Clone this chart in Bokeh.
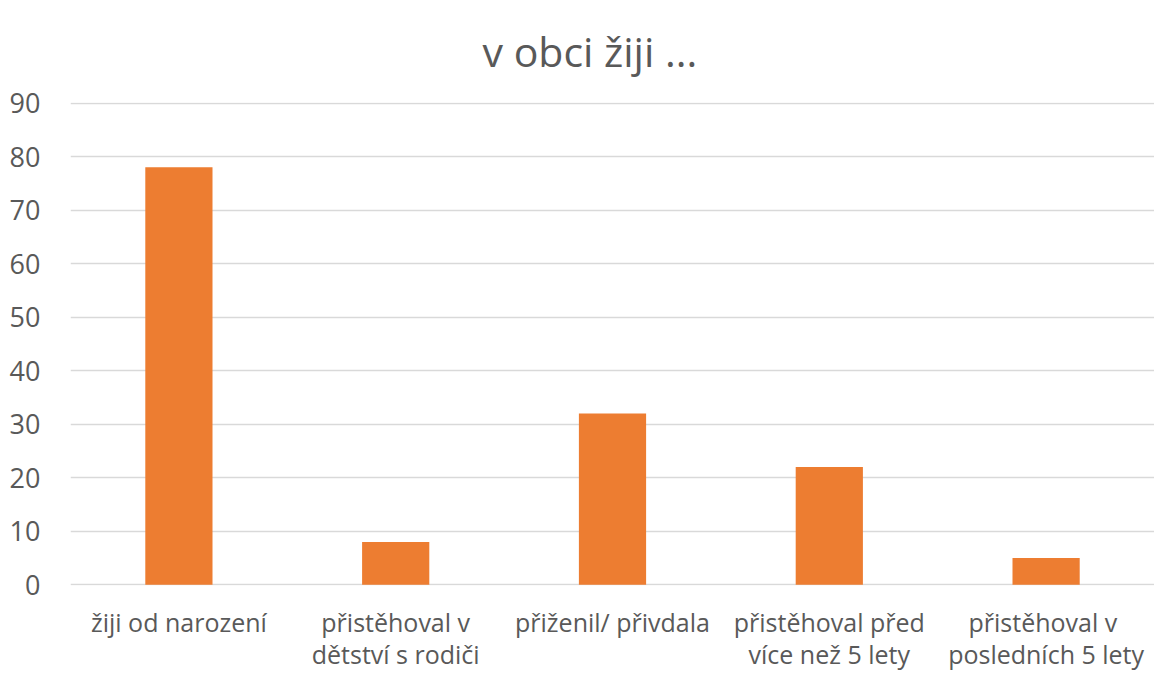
from bokeh.plotting import figure
from bokeh.models import Range1d, SingleIntervalTicker, CategoricalAxis, CustomJSTickFormatter
from bokeh.embed import file_html
from bokeh.resources import INLINE

categories = ["žiji od narození", "přistěhoval v dětství s rodiči", "přiženil/ přivdala",
              "přistěhoval před více než 5 lety", "přistěhoval  v posledních 5 lety"]
label_line1 = ["žiji od narození", "přistěhoval v", "přiženil/ přivdala",
               "přistěhoval před", "přistěhoval  v"]
label_line2 = ["", "dětství s rodiči", "", "více než 5 lety", "posledních 5 lety"]
values = [78, 8, 32, 22, 5]
title_text = "v obci žiji ..."

FONT = "Open Sans"
TXT = "#595959"
p = figure(x_range=categories, width=1154, height=673, output_backend="svg",
           toolbar_location=None, title=title_text,
           min_border_left=70, min_border_right=0, min_border_bottom=87, min_border_top=102)
p.y_range = Range1d(-0.12, 90.12)
p.vbar(x=categories, top=values, width=0.31, fill_color="#ED7D31", line_color=None)

p.title.align = "left"
p.title.vertical_align = "top"
p.title.text_font = FONT
p.title.text_font_style = "normal"
p.title.text_font_size = "41px"
p.title.text_color = TXT
p.title.standoff = 43
p.title.offset = 412

p.outline_line_color = None
p.xgrid.grid_line_color = None
p.ygrid.grid_line_color = "#d9d9d9"
p.ygrid.grid_line_width = 1.3
p.yaxis.ticker = SingleIntervalTicker(interval=10)
p.ygrid.level = "underlay"

x2 = CategoricalAxis()
p.add_layout(x2, "below")

for ax in (p.xaxis, p.yaxis):
    ax.axis_line_color = None
    ax.major_tick_line_color = None
    ax.minor_tick_line_color = None
    ax.major_tick_out = 0
    ax.major_label_text_font = FONT
    ax.major_label_text_font_size = "25px"
    ax.major_label_text_color = TXT

p.yaxis.major_label_text_font_size = "27px"
p.yaxis.major_label_standoff = 26
x1 = p.xaxis[0]
x1.major_label_standoff = 19
x1.formatter = CustomJSTickFormatter(args=dict(m=dict(zip(categories, label_line1))),
                                     code="return m[tick];")
x2.major_label_standoff = -5
x2.formatter = CustomJSTickFormatter(args=dict(m=dict(zip(categories, label_line2))),
                                     code="return m[tick];")

open("out.html", "w").write(file_html(p, INLINE))
